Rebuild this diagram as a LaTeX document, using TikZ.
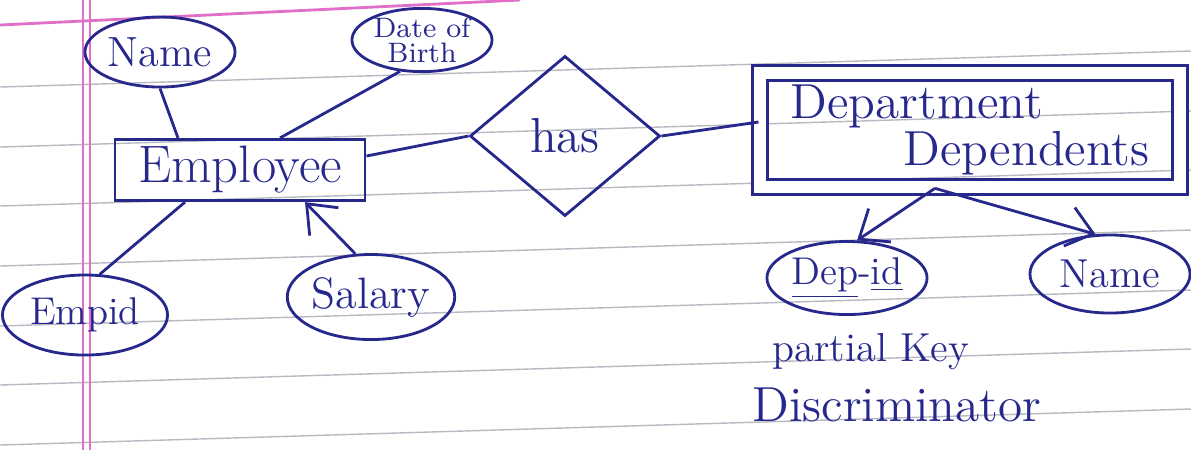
\documentclass[tikz,border=0pt]{standalone}
\usetikzlibrary{shapes.geometric,positioning,arrows.meta}
\definecolor{ink}{RGB}{38,40,140}
\definecolor{rule}{RGB}{185,185,195}
\definecolor{margin}{RGB}{225,110,200}
\begin{document}
\begin{tikzpicture}[x=0.01cm,y=-0.01cm]
	% Estilos
	\tikzstyle{entity} = [rectangle, draw=ink, thick, text=ink, inner sep=2pt, minimum width=2.5cm, minimum height=0.6cm, font=\fontsize{15}{17}\selectfont]
	\tikzstyle{weak} = [rectangle, draw=ink, thick, double, double distance=0.12cm, text=ink, minimum width=4.2cm, minimum height=0.82cm, align=left, font=\fontsize{14}{12}\selectfont]
	\tikzstyle{attr} = [ellipse, draw=ink, thick, text=ink, inner sep=0pt]
	\tikzstyle{rel} = [diamond, draw=ink, thick, text=ink, minimum width=1.9cm, minimum height=1.6cm, inner sep=0pt, font=\fontsize{14}{16}\selectfont]
	\tikzstyle{note} = [text=ink, inner sep=0pt]
	\tikzstyle{link} = [thick, draw=ink]
	\tikzstyle{arrow} = [thick, draw=ink, ->, >={Straight Barb[length=2.5mm,width=4mm]}]
	\useasboundingbox (0,0) rectangle (1191,450);
	% Folha pautada
	\foreach \y in {87,147,206,266,326,385,445}
		\draw[rule, thin] (0,\y) -- (1191,\y-36);
	\draw[margin, thick] (0,25) -- (520,0);
	\draw[margin, thin] (83,0) -- (83,450) (90,0) -- (90,450);
	% Nós
	\node (emp) [entity] at (240,170) {Employee};
	\node (name1) [attr, minimum width=1.5cm, minimum height=0.7cm, font=\fontsize{12}{14}\selectfont] at (160,52) {Name};
	\node (dob) [attr, minimum width=1.4cm, minimum height=0.62cm, align=center, font=\fontsize{8}{7}\selectfont] at (422,40) {Date of\\Birth};
	\node (empid) [attr, minimum width=1.65cm, minimum height=0.8cm, font=\fontsize{11}{13}\selectfont] at (85,315) {Empid};
	\node (salary) [attr, minimum width=1.52cm, minimum height=0.85cm, font=\fontsize{12.5}{14}\selectfont] at (371,297) {Salary};
	\node (has) [rel] at (565,136) {has};
	\node (dep) [weak] at (970,130) {Department\\\hspace*{1.13cm}Dependents};
	\node (depid) [attr, minimum width=1.6cm, minimum height=0.73cm, font=\fontsize{11}{13}\selectfont] at (847,278) {\underline{Dep}-\underline{id}};
	\node (name2) [attr, minimum width=1.6cm, minimum height=0.78cm, font=\fontsize{11.5}{13}\selectfont] at (1110,274) {Name};
	\node (partial) [note, font=\fontsize{11.5}{13}\selectfont] at (871,352) {partial Key};
	\node (discr) [note, font=\fontsize{14}{16}\selectfont] at (897,405) {Discriminator};
	% Ligações
	\draw [link] (name1.south) -- ([xshift=-0.62cm]emp.north);
	\draw [link] (dob.235) -- ([xshift=0.4cm]emp.north);
	\draw [link] ([yshift=0.14cm]emp.east) -- (has.west);
	\draw [link] (has.east) -- ([yshift=0.08cm]dep.west);
	\draw [link] ([xshift=-0.55cm]emp.south) -- (empid.70);
	% Setas
	\draw [arrow] (salary.110) -- ([xshift=0.65cm]emp.south);
	\draw [arrow] ([xshift=-0.35cm]dep.south) -- (depid.75);
	\draw [arrow] ([xshift=-0.35cm]dep.south) -- (name2.110);
\end{tikzpicture}
\end{document}
